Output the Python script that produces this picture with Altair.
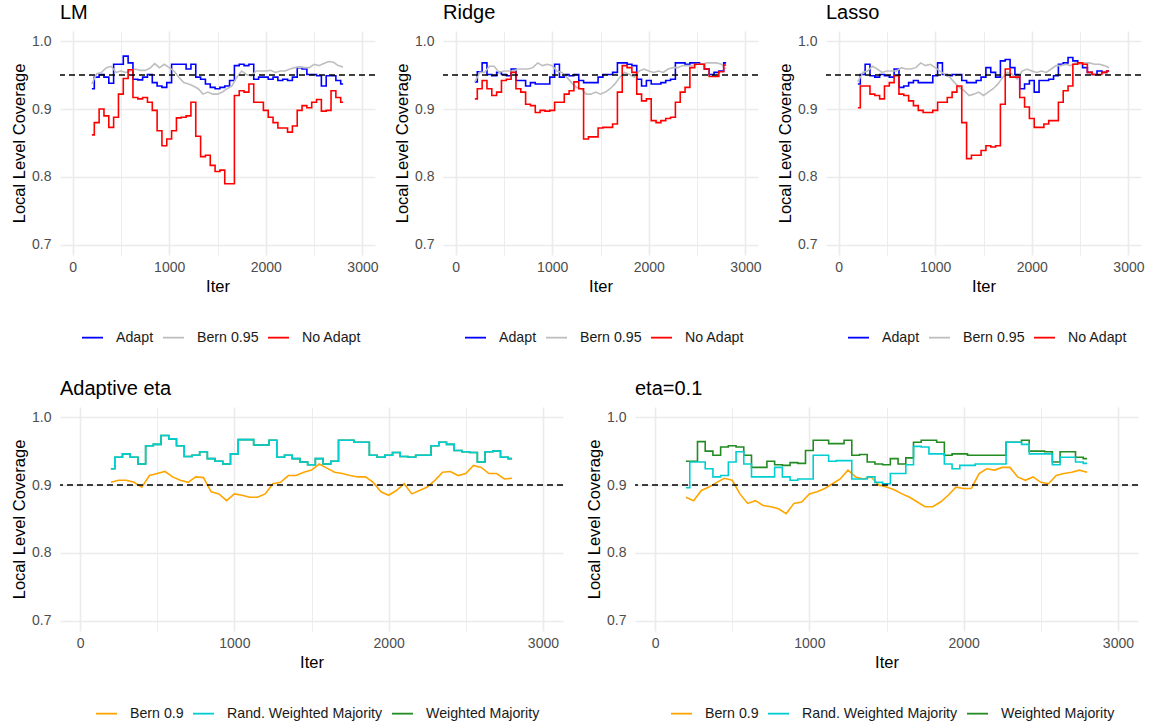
import altair as alt
import pandas as pd

# Sampling positions (iterations) shared by every series
ITERS = list(range(200, 2850, 50))

# ---- Top row: local coverage at target 0.95 ----
LM_ADAPT = [0.930, 0.947, 0.951, 0.947, 0.938, 0.966, 0.966, 0.978, 0.968, 0.944,
            0.943, 0.947, 0.951, 0.939, 0.934, 0.932, 0.939, 0.966, 0.966, 0.966,
            0.959, 0.966, 0.947, 0.944, 0.937, 0.932, 0.930, 0.932, 0.934, 0.942,
            0.964, 0.966, 0.964, 0.966, 0.944, 0.947, 0.947, 0.944, 0.947, 0.942,
            0.944, 0.942, 0.947, 0.961, 0.959, 0.951, 0.951, 0.949, 0.934, 0.949,
            0.949, 0.942, 0.937]
LM_BERN = [0.937, 0.952, 0.954, 0.961, 0.963, 0.954, 0.956, 0.954, 0.956, 0.959,
           0.957, 0.957, 0.960, 0.967, 0.961, 0.966, 0.961, 0.956, 0.947, 0.939,
           0.937, 0.934, 0.930, 0.922, 0.925, 0.922, 0.922, 0.925, 0.930, 0.934,
           0.947, 0.956, 0.951, 0.949, 0.956, 0.956, 0.956, 0.957, 0.954, 0.956,
           0.956, 0.959, 0.961, 0.962, 0.961, 0.961, 0.966, 0.964, 0.967, 0.970,
           0.969, 0.964, 0.962]
LM_NOADAPT = [0.862, 0.880, 0.900, 0.890, 0.873, 0.888, 0.922, 0.945, 0.958, 0.917,
              0.915, 0.917, 0.910, 0.898, 0.868, 0.846, 0.856, 0.868, 0.887, 0.888,
              0.890, 0.910, 0.860, 0.830, 0.832, 0.817, 0.808, 0.810, 0.790, 0.790,
              0.920, 0.927, 0.925, 0.937, 0.910, 0.910, 0.898, 0.888, 0.880, 0.872,
              0.872, 0.866, 0.875, 0.898, 0.905, 0.902, 0.910, 0.914, 0.897, 0.898,
              0.927, 0.917, 0.910]

RIDGE_ADAPT = [0.940, 0.955, 0.968, 0.951, 0.949, 0.954, 0.951, 0.949, 0.959, 0.942,
               0.942, 0.934, 0.939, 0.937, 0.937, 0.937, 0.947, 0.966, 0.947, 0.951,
               0.949, 0.951, 0.942, 0.939, 0.939, 0.939, 0.947, 0.951, 0.951, 0.954,
               0.968, 0.968, 0.966, 0.964, 0.944, 0.934, 0.942, 0.937, 0.937, 0.939,
               0.942, 0.944, 0.968, 0.968, 0.966, 0.968, 0.968, 0.966, 0.959, 0.951,
               0.954, 0.956, 0.968]
RIDGE_BERN = [0.940, 0.954, 0.954, 0.963, 0.963, 0.954, 0.956, 0.956, 0.956, 0.959,
              0.959, 0.959, 0.961, 0.968, 0.964, 0.966, 0.964, 0.956, 0.954, 0.947,
              0.939, 0.932, 0.930, 0.922, 0.922, 0.925, 0.922, 0.925, 0.930, 0.937,
              0.947, 0.954, 0.951, 0.947, 0.956, 0.959, 0.956, 0.954, 0.956, 0.954,
              0.959, 0.961, 0.961, 0.964, 0.964, 0.964, 0.966, 0.966, 0.968, 0.968,
              0.968, 0.966, 0.959]
RIDGE_NOADAPT = [0.915, 0.930, 0.942, 0.930, 0.920, 0.925, 0.942, 0.944, 0.954, 0.930,
                 0.925, 0.907, 0.905, 0.895, 0.898, 0.897, 0.898, 0.910, 0.910, 0.922,
                 0.927, 0.940, 0.930, 0.856, 0.859, 0.859, 0.872, 0.873, 0.873, 0.878,
                 0.925, 0.964, 0.961, 0.954, 0.922, 0.912, 0.915, 0.883, 0.880, 0.883,
                 0.886, 0.888, 0.910, 0.925, 0.932, 0.961, 0.966, 0.966, 0.959, 0.948,
                 0.948, 0.955, 0.965]

LASSO_ADAPT = [0.937, 0.951, 0.966, 0.949, 0.947, 0.951, 0.949, 0.947, 0.959, 0.932,
               0.934, 0.939, 0.942, 0.939, 0.939, 0.939, 0.949, 0.968, 0.951, 0.949,
               0.951, 0.951, 0.942, 0.939, 0.939, 0.942, 0.947, 0.961, 0.954, 0.947,
               0.971, 0.973, 0.961, 0.951, 0.930, 0.937, 0.942, 0.925, 0.942, 0.942,
               0.944, 0.949, 0.966, 0.968, 0.976, 0.971, 0.968, 0.961, 0.954, 0.951,
               0.956, 0.954, 0.956]
LASSO_BERN = [0.940, 0.954, 0.956, 0.963, 0.959, 0.954, 0.956, 0.956, 0.956, 0.961,
              0.959, 0.959, 0.961, 0.968, 0.964, 0.966, 0.961, 0.956, 0.951, 0.947,
              0.939, 0.932, 0.927, 0.920, 0.922, 0.925, 0.920, 0.925, 0.930, 0.937,
              0.947, 0.954, 0.951, 0.944, 0.956, 0.959, 0.956, 0.954, 0.956, 0.954,
              0.959, 0.964, 0.964, 0.966, 0.964, 0.968, 0.966, 0.968, 0.968, 0.966,
              0.966, 0.964, 0.961]
LASSO_NOADAPT = [0.902, 0.934, 0.934, 0.922, 0.920, 0.915, 0.934, 0.939, 0.949, 0.922,
                 0.920, 0.912, 0.905, 0.898, 0.895, 0.895, 0.898, 0.910, 0.910, 0.917,
                 0.925, 0.934, 0.880, 0.827, 0.832, 0.832, 0.839, 0.846, 0.844, 0.846,
                 0.907, 0.959, 0.947, 0.947, 0.917, 0.903, 0.886, 0.873, 0.873, 0.878,
                 0.883, 0.883, 0.910, 0.927, 0.934, 0.966, 0.968, 0.966, 0.954, 0.951,
                 0.951, 0.954, 0.956]

# ---- Bottom row: local coverage at target 0.9 ----
ADA_BERN = [0.904, 0.907, 0.907, 0.904, 0.897, 0.914, 0.917, 0.920, 0.912, 0.907,
            0.904, 0.912, 0.911, 0.890, 0.887, 0.877, 0.887, 0.885, 0.882, 0.882,
            0.887, 0.902, 0.904, 0.914, 0.914, 0.919, 0.922, 0.931, 0.925, 0.919,
            0.917, 0.914, 0.912, 0.912, 0.904, 0.890, 0.885, 0.892, 0.902, 0.887,
            0.892, 0.897, 0.907, 0.919, 0.920, 0.914, 0.917, 0.929, 0.926, 0.917,
            0.917, 0.909, 0.910]
ADA_RWM = [0.924, 0.941, 0.946, 0.941, 0.931, 0.958, 0.960, 0.973, 0.968, 0.958,
           0.942, 0.944, 0.949, 0.939, 0.935, 0.931, 0.946, 0.967, 0.967, 0.959,
           0.959, 0.966, 0.941, 0.944, 0.939, 0.934, 0.930, 0.939, 0.931, 0.935,
           0.966, 0.966, 0.963, 0.963, 0.944, 0.941, 0.944, 0.948, 0.942, 0.941,
           0.944, 0.944, 0.958, 0.963, 0.960, 0.951, 0.949, 0.948, 0.934, 0.949,
           0.950, 0.941, 0.939]
# Weighted Majority coincides with the randomized version under adaptive eta
ADA_WM = list(ADA_RWM)

ETA_BERN = [0.882, 0.877, 0.892, 0.897, 0.904, 0.910, 0.907, 0.887, 0.873, 0.877,
            0.870, 0.868, 0.865, 0.858, 0.873, 0.875, 0.887, 0.890, 0.895, 0.902,
            0.909, 0.922, 0.912, 0.909, 0.912, 0.900, 0.897, 0.893, 0.887, 0.882,
            0.875, 0.868, 0.868, 0.875, 0.885, 0.897, 0.895, 0.895, 0.917, 0.924,
            0.922, 0.926, 0.926, 0.912, 0.907, 0.912, 0.904, 0.902, 0.914, 0.917,
            0.919, 0.922, 0.919]
ETA_RWM = [0.896, 0.934, 0.934, 0.924, 0.912, 0.914, 0.934, 0.949, 0.931, 0.912,
           0.912, 0.912, 0.926, 0.912, 0.907, 0.909, 0.909, 0.944, 0.944, 0.935,
           0.936, 0.936, 0.909, 0.909, 0.912, 0.904, 0.902, 0.917, 0.917, 0.930,
           0.957, 0.956, 0.946, 0.946, 0.931, 0.924, 0.929, 0.929, 0.931, 0.931,
           0.931, 0.931, 0.963, 0.963, 0.960, 0.946, 0.946, 0.946, 0.930, 0.941,
           0.941, 0.934, 0.932]
ETA_WM = [0.935, 0.935, 0.964, 0.950, 0.944, 0.956, 0.958, 0.956, 0.944, 0.926,
          0.926, 0.935, 0.930, 0.929, 0.933, 0.932, 0.951, 0.966, 0.966, 0.961,
          0.961, 0.966, 0.944, 0.945, 0.934, 0.931, 0.930, 0.939, 0.931, 0.940,
          0.963, 0.966, 0.966, 0.963, 0.944, 0.946, 0.946, 0.944, 0.944, 0.944,
          0.944, 0.944, 0.963, 0.963, 0.966, 0.950, 0.950, 0.949, 0.934, 0.949,
          0.949, 0.941, 0.939]

TOP_NAMES = ["Adapt", "Bern 0.95", "No Adapt"]
TOP_COLORS = ["#0000FF", "#BEBEBE", "#FF0000"]
BOT_NAMES = ["Bern 0.9", "Rand. Weighted Majority", "Weighted Majority"]
BOT_COLORS = ["#FFA500", "#00CED1", "#228B22"]

FONT = "Liberation Sans"
X_SCALE = alt.Scale(domain=[-130, 3130], nice=False, zero=False)
Y_SCALE = alt.Scale(domain=[0.685, 1.015], nice=False, zero=False)

X_AXIS = alt.Axis(
    title="Iter", values=[0, 500, 1000, 1500, 2000, 2500, 3000], format="d",
    labelExpr="datum.value % 1000 == 0 ? datum.label : ''",
    gridWidth={"condition": {"test": "datum.value % 1000 == 0", "value": 1.6}, "value": 0.9},
)
Y_AXIS = alt.Axis(
    title="Local Level Coverage", values=[0.7, 0.75, 0.8, 0.85, 0.9, 0.95, 1.0],
    labelExpr="(round(datum.value * 100) % 10 == 0) ? format(datum.value, '.1f') : ''",
    gridWidth={"condition": {"test": "round(datum.value * 100) % 10 == 0", "value": 1.6},
               "value": 0.9},
)


def panel(title, series, names, colors, target, width, legend_x, draw_order, interps):
    rows = []
    for name, values in series:
        for it, v in zip(ITERS, values):
            rows.append({"Iter": it, "Coverage": v, "Method": name})
    df = pd.DataFrame(rows)

    legend = alt.Legend(
        title=None, orient="none", direction="horizontal",
        legendX=legend_x, legendY=295,
    )
    color = alt.Color("Method:N", scale=alt.Scale(domain=names, range=colors), legend=legend)

    layers = []
    for name in draw_order:
        layers.append(
            alt.Chart(df[df.Method == name])
            .mark_line(interpolate=interps.get(name, "step"), strokeWidth=1.6)
            .encode(
                x=alt.X("Iter:Q", scale=X_SCALE, axis=X_AXIS),
                y=alt.Y("Coverage:Q", scale=Y_SCALE, axis=Y_AXIS),
                color=color,
            )
        )
    rule = (
        alt.Chart(pd.DataFrame({"target": [target]}))
        .mark_rule(color="black", strokeDash=[6, 4], strokeWidth=1.5)
        .encode(y=alt.Y("target:Q", scale=Y_SCALE))
    )
    return alt.layer(*layers, rule).properties(
        width=width, height=224,
        title=alt.TitleParams(title, anchor="start", frame="group"),
    )


top_interp = {"Bern 0.95": "linear"}
bot_interp = {"Bern 0.9": "linear"}

lm = panel("LM",
           [("Adapt", LM_ADAPT), ("Bern 0.95", LM_BERN), ("No Adapt", LM_NOADAPT)],
           TOP_NAMES, TOP_COLORS, 0.95, 315, 21, TOP_NAMES, top_interp)
ridge = panel("Ridge",
              [("Adapt", RIDGE_ADAPT), ("Bern 0.95", RIDGE_BERN), ("No Adapt", RIDGE_NOADAPT)],
              TOP_NAMES, TOP_COLORS, 0.95, 315, 21, TOP_NAMES, top_interp)
lasso = panel("Lasso",
              [("Adapt", LASSO_ADAPT), ("Bern 0.95", LASSO_BERN), ("No Adapt", LASSO_NOADAPT)],
              TOP_NAMES, TOP_COLORS, 0.95, 315, 21, TOP_NAMES, top_interp)

bot_order = ["Weighted Majority", "Bern 0.9", "Rand. Weighted Majority"]
ada = panel("Adaptive eta",
            [("Bern 0.9", ADA_BERN), ("Rand. Weighted Majority", ADA_RWM),
             ("Weighted Majority", ADA_WM)],
            BOT_NAMES, BOT_COLORS, 0.9, 503, 35, bot_order, bot_interp)
eta = panel("eta=0.1",
            [("Bern 0.9", ETA_BERN), ("Rand. Weighted Majority", ETA_RWM),
             ("Weighted Majority", ETA_WM)],
            BOT_NAMES, BOT_COLORS, 0.9, 503, 35, bot_order, bot_interp)

top = (alt.hconcat(lm, ridge, lasso, spacing=15)
       .resolve_scale(color="independent").resolve_legend(color="independent"))
bottom = (alt.hconcat(ada, eta, spacing=22)
          .resolve_scale(color="independent").resolve_legend(color="independent"))

chart = (
    alt.vconcat(top, bottom, spacing=34)
    .resolve_scale(color="independent")
    .resolve_legend(color="independent")
    .properties(padding={"left": 11, "top": 3, "right": 2, "bottom": 2}, background="white")
    .configure_view(stroke=None)
    .configure_axis(
        labelFont=FONT, titleFont=FONT, labelFontSize=14, labelColor="#4D4D4D",
        titleFontSize=16.5, titleColor="#000000", titleFontWeight="normal",
        titlePadding=4, domain=False, ticks=False,
        grid=True, gridColor="#EBEBEB",
    )
    .configure_axisX(labelPadding=5)
    .configure_axisY(labelPadding=9)
    .configure_legend(
        labelFont=FONT, labelFontSize=14.2, labelColor="#1A1A1A",
        symbolType="stroke", symbolSize=441, symbolStrokeWidth=1.8,
        labelOffset=12, columnPadding=5, padding=0,
    )
    .configure_title(font=FONT, fontSize=20, fontWeight="normal", color="#000000", offset=8)
)

chart.save("out.html", embed_options={"renderer": "svg", "actions": False})
